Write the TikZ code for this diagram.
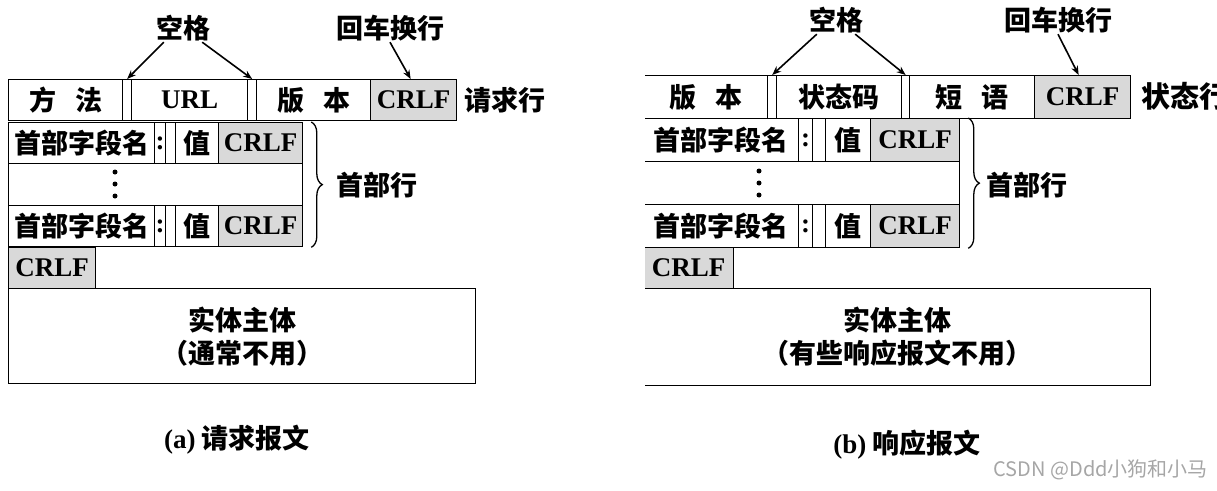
\documentclass[tikz,border=0pt]{standalone}
\usepackage{fontspec}
\setmainfont{Liberation Serif}
\newfontfamily\cjk{Noto Sans CJK SC}
\usetikzlibrary{arrows.meta, decorations.pathreplacing}

\begin{document}
\begin{tikzpicture}[x=1pt, y=-1pt,
    blk/.style={draw, line width=1.3pt, anchor=north west, inner sep=0pt, font=\cjk\bfseries\fontsize{27}{33}\selectfont},
    crlf/.style={fill=gray!30, font=\bfseries\fontsize{27}{30}\selectfont},
    txt/.style={inner sep=1pt, font=\cjk\bfseries\fontsize{27}{33}\selectfont},
    arr/.style={line width=1.6pt, -{Stealth[length=9pt, width=7pt]}},
    brc/.style={decorate, decoration={brace, amplitude=11pt}, line width=1.3pt},
    dot/.style={circle, fill, inner sep=0pt, minimum size=5pt}
  ]
    \useasboundingbox (0,0) rectangle (1217,490);

    % (a) request
    \foreach \n/\x/\w/\t in {qa/8/114/{方\hspace{0.7em}法}, qb/122/9/{}, qc/131/116/{\rmfamily\bfseries URL},
                            qd/247/9/{}, qe/256/114/{版\hspace{0.7em}本}} {
      \node[blk, minimum width=\w, minimum height=41] (\n) at (\x,79) {\t};
    }
    \node[blk, crlf, minimum width=86, minimum height=41] (qf) at (370,79) {CRLF};
    \node[txt, anchor=west] (qlab) at (463,100) {请求行};

    \node[txt] (kga) at (183,28) {空格};
    \node[txt] (hca) at (390,28) {回车换行};
    \draw[arr] ([xshift=9pt]kga.south west) -- (qb.north);
    \draw[arr] ([xshift=-9pt]kga.south east) -- (qd.north);
    \draw[arr] (hca.south) -- ([xshift=-3pt]qf.north);

    \foreach \y in {122,205} {
      \node[blk, minimum width=146, minimum height=41] (hn\y) at (8,\y) {首部字段名};
      \node[blk, minimum width=11, minimum height=41] (hk\y) at (154,\y) {\rmfamily\bfseries :};
      \node[blk, minimum width=10, minimum height=41] (hs\y) at (165,\y) {};
      \node[blk, minimum width=43, minimum height=41] (hv\y) at (175,\y) {值};
      \node[blk, crlf, minimum width=84, minimum height=41] (hc\y) at (218,\y) {CRLF};
    }
    \node[blk, minimum width=294, minimum height=42] (hdots) at (8,163) {};
    \foreach \d in {172,184,196}
      \node[dot] at (115,\d) {};
    \draw[brc] ([xshift=8pt]hc122.north east) -- ([xshift=8pt]hc205.south east);
    \node[txt, anchor=west] (hlab) at (335,185) {首部行};

    \node[blk, crlf, minimum width=87, minimum height=41] (ec) at (8,247) {CRLF};
    \node[blk, align=center, minimum width=467, minimum height=95] (body) at (8,288) {实体主体\\（通常不用）};
    \node[txt] (capa) at (237,440) {{\rmfamily\bfseries (a)} 请求报文};

    % (b) response, left edge cut off
    \begin{scope}
      \clip (645,0) rectangle (1217,490);
      \foreach \n/\x/\w/\t in {ra/643/124/{版\hspace{0.7em}本}, rb/767/9/{}, rc/776/125/{状态码},
                              rd/901/8/{}, re/909/125/{短\hspace{0.7em}语}} {
        \node[blk, minimum width=\w, minimum height=43] (\n) at (\x,75) {\t};
      }
      \node[blk, crlf, minimum width=96, minimum height=43] (rf) at (1034,75) {CRLF};

      \foreach \y in {118,204} {
        \node[blk, minimum width=155, minimum height=43] (gn\y) at (643,\y) {首部字段名};
        \node[blk, minimum width=14, minimum height=43] (gk\y) at (798,\y) {\rmfamily\bfseries :};
        \node[blk, minimum width=13, minimum height=43] (gs\y) at (812,\y) {};
        \node[blk, minimum width=45, minimum height=43] (gv\y) at (825,\y) {值};
        \node[blk, crlf, minimum width=89, minimum height=43] (gc\y) at (870,\y) {CRLF};
      }
      \node[blk, minimum width=316, minimum height=43] (gdots) at (643,161) {};
      \foreach \d in {171,183,195}
        \node[dot] at (759,\d) {};

      \node[blk, crlf, minimum width=90, minimum height=41] (fc) at (643,247) {CRLF};
      \node[blk, align=center, minimum width=507, minimum height=97] (rbody) at (643,288) {实体主体\\（有些响应报文不用）};
    \end{scope}
    \node[txt, anchor=west, font=\cjk\bfseries\fontsize{29}{33}\selectfont] (rlab) at (1140,96) {状态行};

    \node[txt] (kgb) at (836,20) {空格};
    \node[txt] (hcb) at (1058,20) {回车换行};
    \draw[arr] ([xshift=9pt]kgb.south west) -- (rb.north);
    \draw[arr] ([xshift=-9pt]kgb.south east) -- (rd.north);
    \draw[arr] (hcb.south) -- ([xshift=-4pt]rf.north);

    \draw[brc] ([xshift=8pt]gc118.north east) -- ([xshift=8pt]gc204.south east);
    \node[txt, anchor=west] (glab) at (985,185) {首部行};
    \node[txt] (capb) at (907,445) {{\rmfamily\bfseries (b)} 响应报文};

    \node[anchor=west, text=gray!70, font=\cjk\fontsize{20}{24}\selectfont] (mark) at (990,470) {CSDN @Ddd小狗和小马};
\end{tikzpicture}
\end{document}
